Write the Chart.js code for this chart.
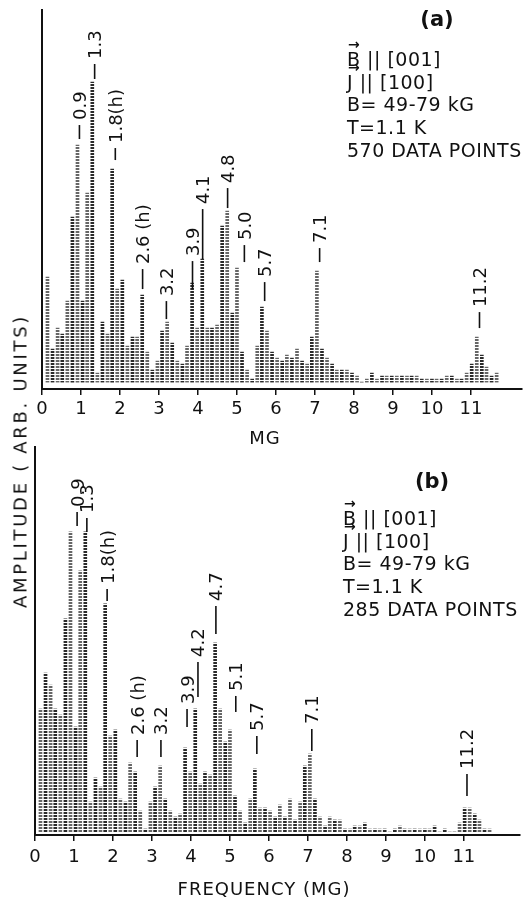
<!DOCTYPE html>
<html>
<head>
<meta charset="utf-8">
<script src="https://cdn.jsdelivr.net/npm/chart.js@4.4.1/dist/chart.umd.min.js"></script>
<style>
  body { margin: 0; width: 528px; height: 899px; position: relative; background: #fff; overflow: hidden;
         font-family: "DejaVu Sans", sans-serif; color: #111; }
  canvas { position: absolute; left: 0; }
  .txt { position: absolute; white-space: nowrap; }
  .info { position: absolute; font-size: 19px; line-height: 22.7px; letter-spacing: 0.5px; white-space: nowrap; }
  .vec { position: relative; display: inline-block; }
  .vec::before { content: "\2192"; position: absolute; left: 1px; top: -15px; font-size: 14px; font-weight: bold; }
  .panel { font-size: 21px; font-weight: bold; transform: translateX(-50%); }
</style>
</head>
<body>
<canvas id="chartA" width="528" height="440" style="top:0"></canvas>
<canvas id="chartB" width="528" height="459" style="top:440px"></canvas>

<div class="txt panel" style="left:437px; top:7px">(a)</div>
<div class="info" style="left:347px; top:48px">
  <div><span class="vec">B</span> || [001]</div>
  <div><span class="vec">J</span> || [100]</div>
  <div>B= 49-79 kG</div>
  <div>T=1.1 K</div>
  <div>570 DATA POINTS</div>
</div>

<div class="txt panel" style="left:432px; top:469px">(b)</div>
<div class="info" style="left:343px; top:507px">
  <div><span class="vec">B</span> || [001]</div>
  <div><span class="vec">J</span> || [100]</div>
  <div>B= 49-79 kG</div>
  <div>T=1.1 K</div>
  <div>285 DATA POINTS</div>
</div>

<div class="txt" style="left:20px; top:461px; font-size:18px; letter-spacing:2.7px; transform:translate(-50%,-50%) rotate(-90deg)">AMPLITUDE ( ARB. UNITS)</div>
<div class="txt" style="left:265px; top:437px; font-size:18px; letter-spacing:1px; transform:translate(-50%,-50%)">MG</div>
<div class="txt" style="left:264px; top:888px; font-size:18px; letter-spacing:1px; transform:translate(-50%,-50%)">FREQUENCY (MG)</div>

<script>
// frequency grid of the transform (MG), shared by both panels
const freqMG = [
  0.14, 0.27, 0.40, 0.52, 0.65, 0.78, 0.91, 1.04, 1.16, 1.29,
  1.42, 1.55, 1.68, 1.80, 1.93, 2.06, 2.19, 2.32, 2.44, 2.57,
  2.70, 2.83, 2.96, 3.08, 3.21, 3.34, 3.47, 3.60, 3.72, 3.85,
  3.98, 4.11, 4.24, 4.36, 4.49, 4.62, 4.75, 4.88, 5.00, 5.13,
  5.26, 5.39, 5.52, 5.64, 5.77, 5.90, 6.03, 6.16, 6.28, 6.41,
  6.54, 6.67, 6.80, 6.92, 7.05, 7.18, 7.31, 7.44, 7.56, 7.69,
  7.82, 7.95, 8.08, 8.20, 8.33, 8.46, 8.59, 8.72, 8.84, 8.97,
  9.10, 9.23, 9.36, 9.48, 9.61, 9.74, 9.87, 10.00, 10.12, 10.25,
  10.38, 10.51, 10.64, 10.76, 10.89, 11.02, 11.15, 11.28, 11.40, 11.53,
  11.66
];

// panel (a): 570 data points
const ampA = [
  35, 11, 18, 16, 27, 55, 79, 27, 63, 100,
  3, 20, 16, 71, 31, 34, 12, 15, 15, 29,
  10, 4, 7, 17, 20, 13, 7, 6, 12, 33,
  18, 41, 18, 18, 19, 52, 57, 23, 38, 10,
  4, 1, 12, 25, 17, 10, 8, 7, 9, 8,
  11, 7, 6, 15, 37, 11, 8, 6, 4, 4,
  4, 3, 2, 0, 1, 3, 1, 2, 2, 2,
  2, 2, 2, 2, 2, 1, 1, 1, 1, 1,
  2, 2, 1, 1, 3, 6, 15, 9, 5, 2,
  3
];

// panel (b): 285 data points
const ampB = [
  41, 53, 49, 41, 39, 71, 100, 35, 87, 100,
  10, 18, 15, 76, 32, 34, 11, 10, 23, 20,
  7, 1, 10, 15, 22, 11, 7, 5, 6, 28,
  20, 41, 16, 20, 19, 63, 41, 30, 34, 12,
  7, 3, 11, 21, 8, 8, 7, 5, 9, 5,
  11, 4, 10, 22, 26, 11, 5, 2, 5, 4,
  4, 1, 1, 2, 2, 3, 1, 1, 1, 1,
  0, 1, 2, 1, 1, 1, 1, 1, 1, 2,
  0, 1, 0, 0, 3, 8, 8, 6, 4, 1,
  1
];

const xTicks = [0, 1, 2, 3, 4, 5, 6, 7, 8, 9, 10, 11];

// peak labels: text, frequency, amplitude where the lead line starts
const peakTextA = ['0.9', '1.3', '1.8(h)', '2.6 (h)', '3.2', '3.9', '4.1', '4.8', '5.0', '5.7', '7.1', '11.2'];
const peakFreqA = [0.96, 1.35, 1.88, 2.58, 3.19, 3.86, 4.12, 4.76, 5.19, 5.71, 7.12, 11.22];
const peakAmpA  = [81, 101, 74, 31, 21, 31, 41, 58, 40, 27, 40, 18];
const peakTextB = ['0.9', '1.3', '1.8(h)', '2.6 (h)', '3.2', '3.9', '4.2', '4.7', '5.1', '5.7', '7.1', '11.2'];
const peakFreqB = [1.08, 1.33, 1.85, 2.62, 3.23, 3.90, 4.18, 4.64, 5.15, 5.69, 7.10, 11.08];
const peakAmpB  = [102, 100, 77, 25, 25, 35, 45, 66, 40, 26, 27, 12];

// lead line lengths in px (style only)
const leadA = [14, 15, 12, 20, 18, 28, 50, 20, 17, 19, 14, 16];
const leadB = [14, 14, 12, 17, 17, 18, 35, 28, 16, 18, 22, 22];

function dotPattern(ctx, color) {
  const c = document.createElement('canvas');
  c.width = 1; c.height = 3;
  const g = c.getContext('2d');
  g.fillStyle = '#ffffff';
  g.fillRect(0, 0, 1, 3);
  g.fillStyle = color;
  g.fillRect(0, 0, 1, 2);
  return ctx.createPattern(c, 'repeat');
}

const peakLabels = {
  id: 'peakLabels',
  afterDatasetsDraw(chart, args, opts) {
    const { ctx, scales: { x, y } } = chart;
    ctx.save();
    ctx.strokeStyle = '#111';
    ctx.fillStyle = '#111';
    ctx.lineWidth = 1.6;
    ctx.font = '18px "DejaVu Sans"';
    opts.text.forEach((t, i) => {
      const px = x.getPixelForValue(opts.freq[i]);
      const py = y.getPixelForValue(opts.amp[i]);
      const top = py - opts.lead[i];
      ctx.beginPath();
      ctx.moveTo(px, py);
      ctx.lineTo(px, top);
      ctx.stroke();
      ctx.save();
      ctx.translate(px, top - 5);
      ctx.rotate(-Math.PI / 2);
      ctx.textAlign = 'left';
      ctx.textBaseline = 'alphabetic';
      ctx.fillText(t, 0, 6.5);
      ctx.restore();
    });
    ctx.restore();
  }
};

function makeChart(id, amps, cfg) {
  const ctx = document.getElementById(id).getContext('2d');
  const dark = dotPattern(ctx, '#2a2a2a');
  const grey = dotPattern(ctx, '#666666');
  return new Chart(ctx, {
    type: 'bar',
    data: {
      datasets: [{
        data: freqMG.map((f, i) => ({ x: f, y: amps[i] })),
        backgroundColor: amps.map((a, i) => (i % 2 ? dark : grey)),
        borderWidth: 0,
        barThickness: 3
      }]
    },
    options: {
      responsive: false,
      animation: false,
      devicePixelRatio: 1,
      layout: { padding: cfg.padding },
      plugins: {
        legend: { display: false },
        tooltip: { enabled: false },
        peakLabels: cfg.labels
      },
      scales: {
        x: {
          type: 'linear',
          min: 0,
          max: cfg.xMax,
          offset: false,
          afterBuildTicks: s => { s.ticks = xTicks.map(v => ({ value: v })); },
          afterFit: s => { s.height = cfg.xHeight; },
          grid: { display: true, drawOnChartArea: false, drawTicks: true, tickLength: 6, color: '#111', lineWidth: 1.5, offset: false },
          border: { display: true, color: '#111', width: 2 },
          ticks: { color: '#111', font: { family: 'DejaVu Sans', size: 18 }, padding: cfg.tickPad, maxRotation: 0, autoSkip: false }
        },
        y: {
          min: cfg.yMin,
          max: cfg.yMax,
          afterFit: s => { s.width = 0; },
          grid: { display: false },
          border: { display: true, color: '#111', width: 2 },
          ticks: { display: false }
        }
      }
    },
    plugins: [peakLabels]
  });
}

makeChart('chartA', ampA, {
  padding: { top: 10, left: 42, right: 6, bottom: 0 },
  xMax: 12.31, xHeight: 51, tickPad: 4, yMin: -2.3, yMax: 124,
  labels: { text: peakTextA, freq: peakFreqA, amp: peakAmpA, lead: leadA }
});

makeChart('chartB', ampB, {
  padding: { top: 7, left: 35, right: 8, bottom: 0 },
  xMax: 12.44, xHeight: 64, tickPad: 6, yMin: -1, yMax: 128.3,
  labels: { text: peakTextB, freq: peakFreqB, amp: peakAmpB, lead: leadB }
});
</script>
</body>
</html>
